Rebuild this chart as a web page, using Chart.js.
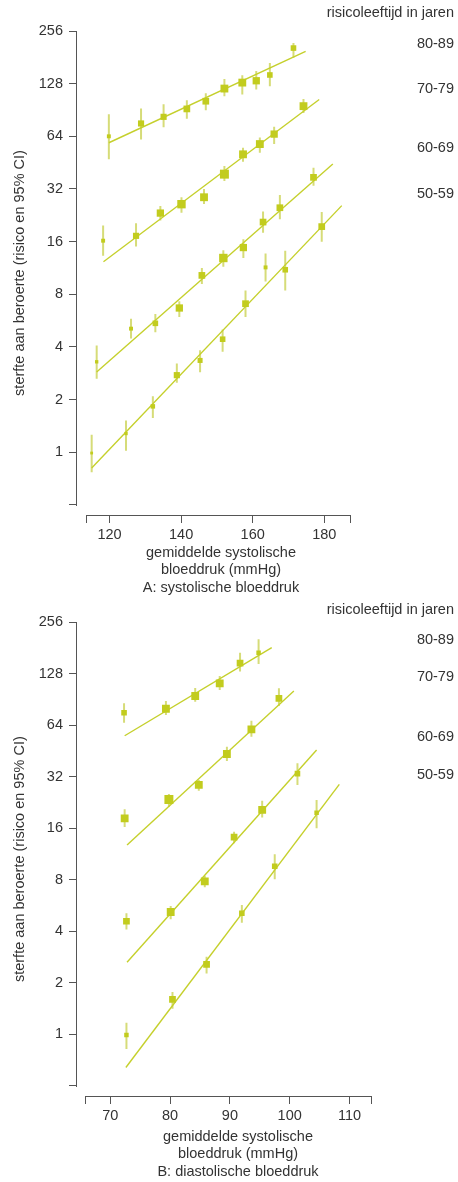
<!DOCTYPE html>
<html>
<head>
<meta charset="utf-8">
<script src="https://cdn.jsdelivr.net/npm/chart.js@4"></script>
<style>
  html, body { margin: 0; padding: 0; background: #fff; }
  .wrap { position: absolute; left: 0; width: 458px; }
</style>
</head>
<body>
<div class="wrap" style="top:0px;height:596px"><canvas id="chartA" width="458" height="596"></canvas></div>
<div class="wrap" style="top:596px;height:586px"><canvas id="chartB" width="458" height="586"></canvas></div>
<script>
// ---------- data ----------
const ageGroups = ['80-89', '70-79', '60-69', '50-59'];
const legendTitle = 'risicoleeftijd in jaren';
const yTickValues = [0.5, 1, 2, 4, 8, 16, 32, 64, 128, 256];
const yTitle = 'sterfte aan beroerte (risico en 95% CI)';

// A: systolic
const sysTickLabels = [120, 140, 160, 180];
const sysAxisEnds = [113.6, 187.2];
const sysTitle = ['gemiddelde systolische', 'bloeddruk (mmHg)', 'A: systolische bloeddruk'];
const sysX = [
  [119.8, 128.8, 135.1, 141.6, 146.9, 152.1, 157.1, 161.0, 164.8, 171.4],
  [118.2, 127.4, 134.2, 140.1, 146.4, 152.1, 157.3, 162.0, 166.0, 174.2],
  [116.4, 126.0, 132.8, 139.5, 145.8, 151.8, 157.4, 162.9, 167.6, 177.0],
  [115.0, 124.6, 132.1, 138.8, 145.3, 151.6, 158.0, 163.6, 169.1, 179.3]
];
const sysY = [
  [64, 75.8, 82.7, 91.8, 101.6, 120, 129.8, 133, 143.5, 204.5],
  [16.2, 17.27, 23.3, 26.2, 28.7, 38.9, 50.5, 57.8, 65.9, 95.2],
  [3.29, 5.09, 5.46, 6.68, 10.26, 12.9, 14.8, 20.7, 25.0, 37.3],
  [0.99, 1.28, 1.83, 2.76, 3.35, 4.43, 7.07, 11.4, 11.05, 19.5]
];
const sysLo = [
  [47.3, 61.4, 72, 80.6, 90.3, 108.5, 111, 118.5, 123.7, 180],
  [13.3, 15.0, 21.1, 23.4, 26.3, 35.5, 45.8, 51.6, 57.8, 87],
  [2.63, 4.47, 4.85, 5.94, 9.16, 11.5, 12.9, 18.0, 21.5, 33.4],
  [0.77, 1.02, 1.57, 2.5, 2.87, 3.75, 5.94, 9.47, 8.42, 16.0]
];
const sysHi = [
  [85.6, 92.2, 97.7, 103, 113, 136, 143, 151, 168, 218.6],
  [19.8, 20.4, 25.6, 28.7, 32, 43.3, 55, 63, 72.5, 104.7],
  [4.08, 5.8, 6.18, 7.29, 11.3, 14.3, 16.5, 23.8, 29.6, 42.3],
  [1.26, 1.52, 2.09, 3.22, 3.83, 5.03, 8.42, 13.7, 14.2, 23.6]
];
const sysWeight = [
  [3.5, 5.5, 5.5, 6, 6, 7, 7, 6.5, 5, 5],
  [3.5, 5.5, 6.5, 7.5, 7, 8, 7, 7, 6.5, 7],
  [3, 3.5, 5, 6.5, 6, 7.5, 6.5, 6, 6, 6],
  [2.5, 3, 4, 5.5, 4.5, 5, 6, 3.5, 5, 6]
];
const sysFitX = [[119.8, 174.8], [118.3, 178.6], [116.4, 182.4], [115.0, 184.9]];
const sysFitY = [[58.8, 195.9], [12.27, 103.9], [2.88, 44.4], [0.814, 25.7]];

// B: diastolic
const diaTickLabels = [70, 80, 90, 100, 110];
const diaAxisEnds = [65.8, 113.6];
const diaTitle = ['gemiddelde systolische', 'bloeddruk (mmHg)', 'B: diastolische bloeddruk'];
const diaX = [
  [72.3, 79.3, 84.2, 88.3, 91.7, 94.8],
  [72.4, 79.8, 84.8, 89.5, 93.6, 98.2],
  [72.7, 80.1, 85.8, 90.7, 95.4, 101.3],
  [72.7, 80.4, 86.1, 92.0, 97.5, 104.5]
];
const diaY = [
  [75.8, 80, 95, 112.6, 148, 170],
  [18.3, 23.6, 28.7, 43.5, 60.6, 92],
  [4.58, 5.19, 7.84, 14.2, 20.5, 33.4],
  [0.99, 1.6, 2.56, 5.1, 9.6, 19.7]
];
const diaLo = [
  [66.3, 73.5, 88, 103, 132, 146],
  [16.3, 21.4, 26.5, 39.6, 54.9, 83],
  [4.1, 4.7, 7.23, 13.1, 18.5, 28.7],
  [0.82, 1.41, 2.27, 4.49, 8.06, 16.0]
];
const diaHi = [
  [86, 88.8, 105.7, 124.3, 170, 203.7],
  [20.7, 25.4, 30.7, 48, 68, 105.5],
  [5.1, 5.62, 8.42, 15.3, 23.2, 38.4],
  [1.17, 1.77, 2.84, 5.7, 11.3, 23.4]
];
const diaWeight = [
  [5, 7, 7, 7, 6, 4],
  [7, 8, 7, 7, 7, 6],
  [6, 7, 7, 6, 7, 5],
  [4, 6, 6, 5, 5, 4]
];
const diaFitX = [[72.4, 97.0], [72.8, 100.7], [72.8, 104.5], [72.6, 108.3]];
const diaFitY = [[55.6, 181.9], [12.8, 101.5], [2.64, 45.9], [0.64, 28.9]];

// ---------- styling ----------
const FONT = '"Liberation Sans", Arial, Helvetica, sans-serif';
const TEXT = '#333333';
const AXIS = '#555555';
const MARK = '#c2cc1e';
const ERR = '#d6dc78';
const FIT = '#c5d02c';
const MARK_SCALE = 1.12;
Chart.defaults.font.family = FONT;
Chart.defaults.font.size = 14.5;
Chart.defaults.color = TEXT;

const decor = {
  id: 'decor',
  afterDraw(chart, args, o) {
    const { ctx, chartArea } = chart;
    const xs = chart.scales.x, ys = chart.scales.y;
    ctx.save();
    ctx.strokeStyle = AXIS;
    ctx.lineWidth = 1;
    const ax = Math.round(chartArea.left) - 0.5;
    ctx.beginPath();
    ctx.moveTo(ax, Math.round(ys.getPixelForValue(o.yEnds[1])));
    ctx.lineTo(ax, Math.round(ys.getPixelForValue(o.yEnds[0])) + 1);
    ctx.stroke();
    const ay = Math.round(chartArea.bottom) + 0.5;
    ctx.beginPath();
    ctx.moveTo(Math.round(xs.getPixelForValue(o.xEnds[0])), ay);
    ctx.lineTo(Math.round(xs.getPixelForValue(o.xEnds[1])) + 1, ay);
    ctx.stroke();

    ctx.fillStyle = TEXT;
    ctx.font = '14.5px ' + FONT;
    ctx.textBaseline = 'middle';
    ctx.textAlign = 'right';
    ctx.fillText(legendTitle, 454, o.legendTitleY);
    ageGroups.forEach((g, i) => ctx.fillText(g, 454, o.groupY[i]));
    ctx.textAlign = 'center';
    o.title.forEach((t, i) => ctx.fillText(t, o.titleX, o.titleY[i]));
    ctx.restore();
  }
};

function buildPanel(id, p) {
  const datasets = [];
  p.X.forEach((xs, g) => {
    datasets.push({
      data: xs.map((x, i) => ({ x, y: p.Y[g][i] })),
      showLine: false,
      pointStyle: 'rect',
      pointRadius: p.W[g].map(s => s * MARK_SCALE / Math.SQRT2),
      pointBackgroundColor: MARK,
      pointBorderWidth: 0,
      order: 0
    });
  });
  p.FX.forEach((fx, g) => {
    datasets.push({
      data: fx.map((x, i) => ({ x, y: p.FY[g][i] })),
      borderColor: FIT,
      borderWidth: 1.4,
      pointRadius: 0,
      order: 1
    });
  });
  p.X.forEach((xs, g) => {
    const pts = [];
    xs.forEach((x, i) => {
      pts.push({ x, y: p.L[g][i] }, { x, y: p.H[g][i] }, { x, y: null });
    });
    datasets.push({
      data: pts,
      borderColor: ERR,
      borderWidth: 2,
      pointRadius: 0,
      spanGaps: false,
      order: 2
    });
  });

  return new Chart(document.getElementById(id), {
    type: 'line',
    data: { datasets },
    plugins: [decor],
    options: {
      responsive: false,
      animation: false,
      events: [],
      layout: { padding: { top: p.top, right: p.right, left: 0, bottom: 0 } },
      plugins: {
        legend: { display: false },
        tooltip: { enabled: false },
        decor: {
          xEnds: p.ends, yEnds: [0.5, 256],
          legendTitleY: p.legendTitleY, groupY: p.groupY,
          title: p.title, titleX: p.titleX, titleY: p.titleY
        }
      },
      scales: {
        x: {
          type: 'linear',
          min: p.xmin, max: p.xmax,
          afterBuildTicks: s => { s.ticks = [p.ends[0], ...p.labels, p.ends[1]].map(v => ({ value: v })); },
          afterFit: s => { s.height = p.xh; },
          ticks: {
            autoSkip: false, maxRotation: 0, padding: 3, color: TEXT,
            font: { size: 14.5 },
            callback: v => (p.labels.includes(v) ? String(v) : '')
          },
          grid: { drawOnChartArea: false, drawTicks: true, tickLength: 8, color: AXIS, lineWidth: 1 },
          border: { display: false }
        },
        y: {
          type: 'logarithmic',
          min: p.ymin, max: 256,
          afterBuildTicks: s => { s.ticks = yTickValues.map(v => ({ value: v })); },
          afterFit: s => { s.width = 77; },
          ticks: {
            autoSkip: false, padding: 6, color: TEXT,
            font: { size: 14.5 },
            callback: v => (v === 0.5 ? '' : String(v))
          },
          grid: { drawOnChartArea: false, drawTicks: true, tickLength: 8, color: AXIS, lineWidth: 1 },
          border: { display: false },
          title: {
            display: true, text: yTitle, color: TEXT,
            font: { size: 14.5, lineHeight: 1.2 },
            padding: { top: 11, bottom: 0 }
          }
        }
      }
    }
  });
}

buildPanel('chartA', {
  X: sysX, Y: sysY, L: sysLo, H: sysHi, W: sysWeight, FX: sysFitX, FY: sysFitY,
  labels: sysTickLabels, ends: sysAxisEnds, title: sysTitle,
  xmin: 110.9, xmax: 187.2, ymin: 0.438,
  top: 31, right: 108, xh: 81,
  legendTitleY: 13, groupY: [44, 89, 148, 194],
  titleX: 221, titleY: [553, 570.3, 587.6]
});

buildPanel('chartB', {
  X: diaX, Y: diaY, L: diaLo, H: diaHi, W: diaWeight, FX: diaFitX, FY: diaFitY,
  labels: diaTickLabels, ends: diaAxisEnds, title: diaTitle,
  xmin: 64.43, xmax: 113.6, ymin: 0.436,
  top: 26.3, right: 87, xh: 86,
  legendTitleY: 14, groupY: [44, 81, 141, 179],
  titleX: 238, titleY: [541, 558.3, 575.6]
});
</script>
</body>
</html>
